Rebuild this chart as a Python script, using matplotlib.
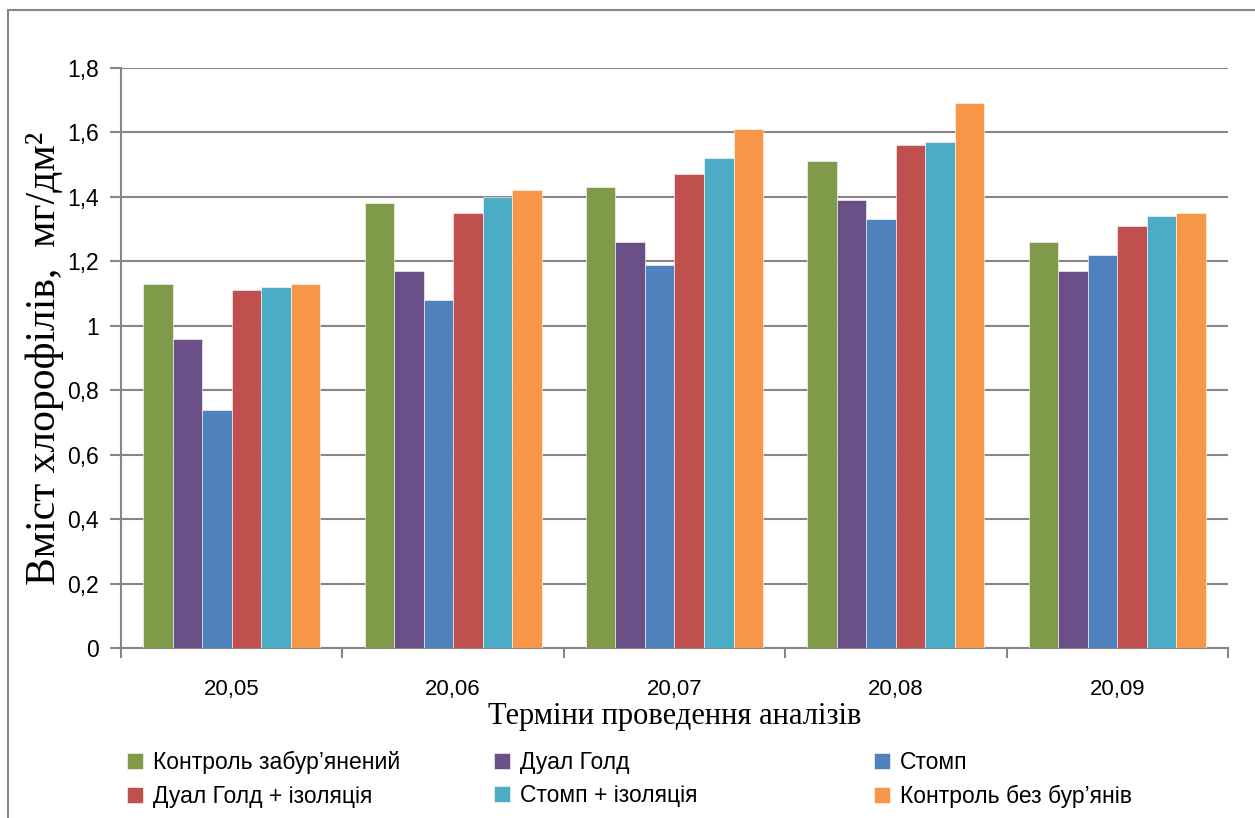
import numpy as np
import matplotlib.pyplot as plt
from matplotlib.patches import Rectangle
from matplotlib.ticker import FixedLocator

# terms of analysis and series
dates = ["20,05", "20,06", "20,07", "20,08", "20,09"]
series_names = [
    "Контроль забур’янений",
    "Дуал Голд",
    "Стомп",
    "Дуал Голд + ізоляція",
    "Стомп + ізоляція",
    "Контроль без бур’янів",
]
control_weedy = [1.13, 1.38, 1.43, 1.51, 1.26]
dual_gold = [0.96, 1.17, 1.26, 1.39, 1.17]
stomp = [0.74, 1.08, 1.19, 1.33, 1.22]
dual_gold_iso = [1.11, 1.35, 1.47, 1.56, 1.31]
stomp_iso = [1.12, 1.40, 1.52, 1.57, 1.34]
control_clean = [1.13, 1.42, 1.61, 1.69, 1.35]

y_ticks = [0, 0.2, 0.4, 0.6, 0.8, 1.0, 1.2, 1.4, 1.6, 1.8]
y_labels = ["0", "0,2", "0,4", "0,6", "0,8", "1", "1,2", "1,4", "1,6", "1,8"]

colors = ["#7f9a48", "#6a5087", "#4f81bd", "#c0504d", "#4bacc6", "#f79646"]
values = [control_weedy, dual_gold, stomp, dual_gold_iso, stomp_iso, control_clean]

fig = plt.figure(figsize=(12.55, 8.18), dpi=100)
ax = fig.add_axes([0.0964, 0.2078, 0.8821, 0.7091])

x = np.arange(len(dates))
width = 0.8 / len(values)
handles = []
for i, (vals, name) in enumerate(zip(values, series_names)):
    b = ax.bar(x - 0.4 + width * (i + 0.5), vals, width, color=colors[i],
               label=name, edgecolor="white", linewidth=0.4, zorder=3)
    handles.append(b)

ax.set_xlim(-0.5, len(dates) - 0.5)
ax.set_ylim(0, 1.8)
ax.yaxis.set_major_locator(FixedLocator(y_ticks))
ax.set_yticklabels(y_labels)
ax.set_xticks(x)
ax.set_xticklabels(dates)
ax.xaxis.set_minor_locator(FixedLocator(np.arange(-0.5, len(dates), 1)))
ax.tick_params(axis="x", which="major", length=0, pad=22, labelsize=16)
ax.tick_params(axis="x", which="minor", length=7, width=1.5, color="#868686")
ax.tick_params(axis="y", length=8, width=1.5, color="#868686", pad=8, labelsize=16.5)

ax.grid(axis="y", color="#868686", linewidth=1.5, zorder=0)
for s in ["top", "right"]:
    ax.spines[s].set_visible(False)
for s in ["left", "bottom"]:
    ax.spines[s].set_color("#868686")
    ax.spines[s].set_linewidth(1.5)

for lbl in ax.get_xticklabels() + ax.get_yticklabels():
    lbl.set_family("Liberation Sans")

ax.set_ylabel("Вміст хлорофілів,  мг/дм²", family="Liberation Serif", fontsize=30, labelpad=2)
ax.set_xlabel("Терміни проведення аналізів", family="Liberation Serif", fontsize=22, labelpad=2)

# legend in three columns, row order as in the original
col_x = [0.094, 0.386, 0.689]
for c in range(3):
    fig.legend([handles[c], handles[c + 3]], [series_names[c], series_names[c + 3]],
               loc="upper left", bbox_to_anchor=(col_x[c], 0.093),
               frameon=False, handlelength=0.7, handleheight=0.7, handletextpad=0.45,
               labelspacing=0.45, borderaxespad=0,
               prop={"family": "Liberation Sans", "size": 16.5})

# outer chart frame
fig.patches.append(Rectangle((8 / 1255, -0.05), 1.1, 1 - 10 / 818 + 0.05, transform=fig.transFigure,
                             fill=False, edgecolor="#868686", linewidth=1.5))

fig.savefig("out.png", dpi=100)
